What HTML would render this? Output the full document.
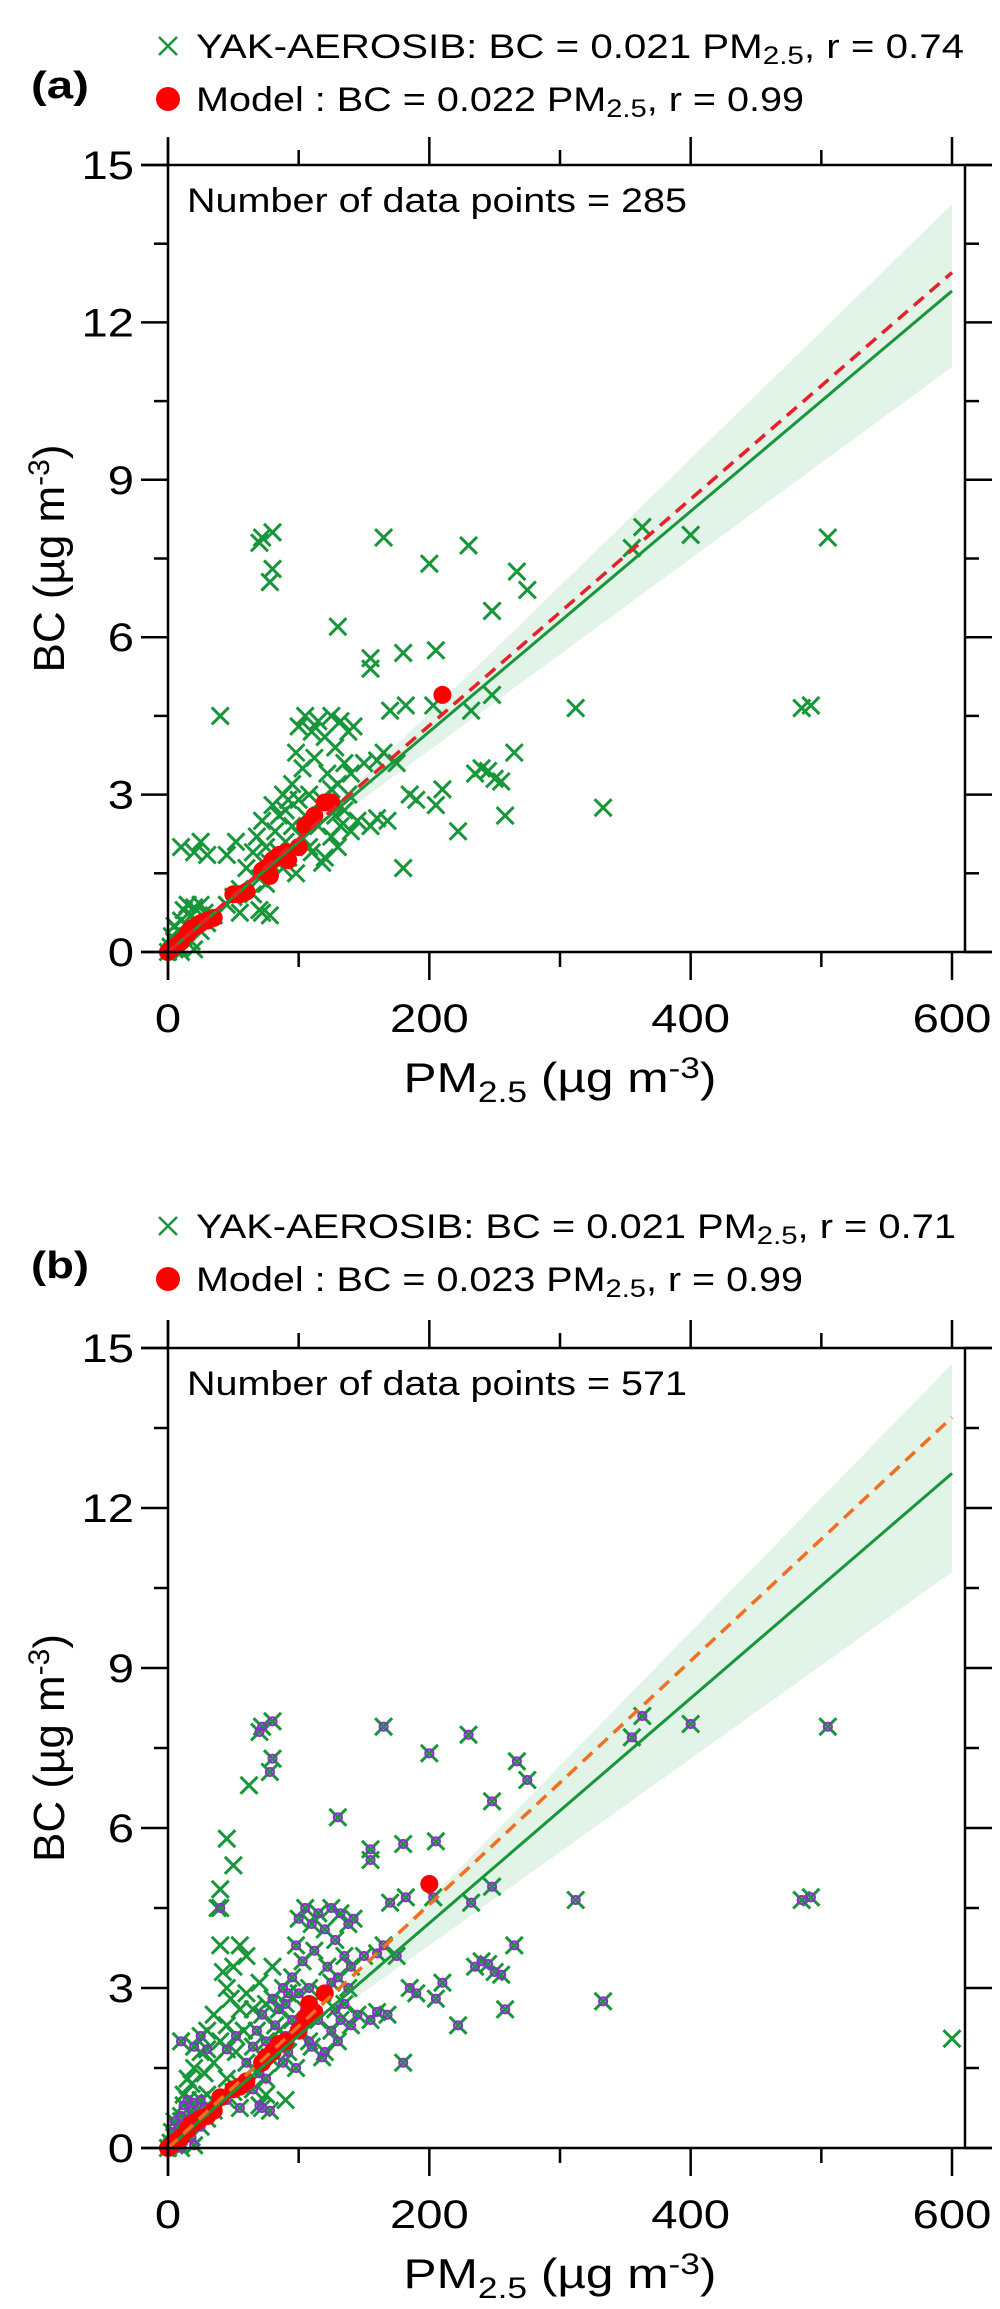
<!DOCTYPE html>
<html><head><meta charset="utf-8">
<style>
html,body{margin:0;padding:0;background:#fff;}
svg{display:block;font-family:"Liberation Sans",sans-serif;}
</style></head>
<body>
<svg id="fig" width="1000" height="2309" viewBox="0 0 1000 2309" xmlns="http://www.w3.org/2000/svg"></svg>
<script>
// ---------- data ----------
const xTicks = [0,200,400,600];
const yTicks = [0,3,6,9,12,15];

const obsAx = [70,72,80,78,80,165,200,230,267,275,248,130,155,155,180,205,40,170,182,203,232,248,312,485,492,505,400,363,355,265,235,240,245,250,255,258,222,205,210,185,190,180,168,155,160,333,175,165,150,160,10,20,25,30,45,52,55,70,72,78,
60,65,68,70,72,75,78,80,82,85,85,88,90,90,92,95,95,98,100,100,102,103,105,105,108,110,110,112,115,115,118,120,120,122,125,125,128,130,130,132,135,135,138,138,140,140,142,145,128,118,98,92,108,132,125,88,75,65,55,50,45,
0,2,3,5,5,8,8,10,12,12,15,15,18,18,20,22,25,28,30,35,20,25,10,5];
const obsAy = [7.8,7.9,8.0,7.05,7.3,7.9,7.4,7.75,7.25,6.9,6.5,6.2,5.6,5.4,5.7,5.75,4.5,4.6,4.7,4.7,4.6,4.9,4.65,4.65,4.7,7.9,7.95,8.1,7.7,3.8,3.4,3.5,3.45,3.3,3.25,2.6,2.3,2.8,3.1,3.0,2.9,1.6,2.5,2.4,2.55,2.75,3.6,3.8,3.6,3.65,2.0,1.9,2.1,1.85,1.85,2.1,0.75,0.8,0.75,0.7,
1.6,1.9,2.2,1.4,2.5,2.0,1.7,2.8,2.3,2.6,1.9,3.0,2.1,2.7,1.8,3.2,2.4,3.8,2.9,4.3,2.2,3.5,4.5,2.6,3.0,4.2,1.9,3.7,4.4,2.4,2.9,4.1,1.8,3.4,4.5,2.2,3.9,3.2,2.0,4.4,3.6,2.7,4.2,3.0,2.3,3.4,4.3,2.5,2.6,1.7,1.5,2.9,2.0,2.4,3.1,1.6,1.3,1.1,1.2,1.05,0.9,
0,0.1,0.3,0.2,0.5,0.4,0.1,0.6,0.3,0.8,0.5,0.9,0.7,0.2,0.85,0.6,0.9,0.75,0.55,0.7,0.05,0.4,0.0,0.05];

const modAx = [0,2,5,10,15,18,22,25,30,35,50,55,60,72,75,78,80,85,90,92,100,105,108,112,120,125,210];
const modAy = [0,0.05,0.1,0.2,0.35,0.45,0.5,0.55,0.6,0.65,1.1,1.1,1.15,1.55,1.6,1.45,1.75,1.85,1.9,1.75,2.0,2.4,2.45,2.6,2.85,2.85,4.9];

const extraBx = [40,45,50,62,38,40,42,45,48,50,55,60,35,30,25,20,15,12,18,28,35,40,45,52,58,65,70,75,60,55,80,85,65,45,30,22,10,600,90,75,8];
const extraBy = [4.85,5.8,5.3,6.8,4.5,3.8,3.3,3.0,2.8,3.4,2.6,2.9,2.5,2.2,1.8,1.5,1.3,1.0,1.2,1.4,1.6,2.0,2.3,1.8,2.2,2.6,3.1,2.7,3.6,3.8,3.4,2.2,1.5,1.3,1.0,0.7,0.5,2.05,0.9,1.0,0.2];
const modBx = [0,2,5,10,15,18,22,25,30,35,40,50,55,60,72,75,80,85,90,100,105,108,112,120,200];
const modBy = [0,0.05,0.1,0.2,0.35,0.45,0.5,0.55,0.6,0.7,0.95,1.1,1.15,1.25,1.6,1.7,1.8,1.95,2.0,2.2,2.45,2.7,2.55,2.9,4.95];

const fitXs = [0,600];
const fitA_obs = [0,12.6];  const fitA_mod = [0,12.95];
const fitB_obs = [0,12.65]; const fitB_mod = [0,13.7];
const bandXs = [140,600];
const bandA_up = [3.1,14.25]; const bandA_lo = [2.75,11.15];
const bandB_up = [3.15,14.7]; const bandB_lo = [2.75,10.8];

// ---------- drawing ----------
const NS="http://www.w3.org/2000/svg";
const svg=document.getElementById('fig');
function mk(tag,attrs,parent){const e=document.createElementNS(NS,tag);for(const k in attrs)e.setAttribute(k,attrs[k]);(parent||svg).appendChild(e);return e;}
const SX=1.18;
function txt(x,y,size,anchor,parent,extra){
  const a=Object.assign({x:0,y:0,'font-size':size,'text-anchor':anchor,transform:`translate(${x},${y}) scale(${SX},1)`},extra||{});
  return mk('text',a,parent);
}

function panel(cfg){
  const g=mk('g',{});
  
  
  const X0=168,X1=952,R=965,T=cfg.top,B=cfg.bottom;
  const sx=v=>X0+(X1-X0)*v/600;
  const sy=v=>B-(B-T)*v/15;
  const bp=[];
  bandXs.forEach((x,i)=>bp.push(sx(x)+','+sy(cfg.up[i])));
  for(let i=bandXs.length-1;i>=0;i--)bp.push(sx(bandXs[i])+','+sy(cfg.lo[i]));
  const band=mk('polygon',{points:bp.join(' '),fill:'#e2f3e7'},g);
  
  
  const og=mk('g',{stroke:'#18963a','stroke-width':3,fill:'none'},g);
  
  
  const drawX=(x,y)=>{const cx=sx(x),cy=sy(y),s=8.5;
    const p=mk('path',{d:`M${cx-s},${cy-s}L${cx+s},${cy+s}M${cx-s},${cy+s}L${cx+s},${cy-s}`},og);
    
    };
  if(cfg.ex){cfg.ex.forEach((x,i)=>drawX(x,cfg.ey[i]));}
  cfg.ox.forEach((x,i)=>drawX(x,cfg.oy[i]));
  if(cfg.purple){
    const pg=mk('g',{stroke:'#8a2fc8','stroke-width':2.2,fill:'none'},g);
    
    
    cfg.ox.forEach((x,i)=>{const c=mk('circle',{cx:sx(x),cy:sy(cfg.oy[i]),r:4},pg);
      
      });
  }
  const mg=mk('g',{fill:'#ff0000'},g);
  
  
  cfg.mx.forEach((x,i)=>{const c=mk('circle',{cx:sx(x),cy:sy(cfg.my[i]),r:9},mg);
    
    });
  const l1=mk('line',{x1:sx(fitXs[0]),y1:sy(cfg.fo[0]),x2:sx(fitXs[1]),y2:sy(cfg.fo[1]),stroke:'#18963a','stroke-width':3},g);
  
  
  const l2=mk('line',{x1:sx(fitXs[0]),y1:sy(cfg.fm[0]),x2:sx(fitXs[1]),y2:sy(cfg.fm[1]),stroke:cfg.dashColor,'stroke-width':3.5,'stroke-dasharray':'13,8'},g);
  
  
  const ax=mk('g',{stroke:'#000','stroke-width':2.5,fill:'none'},g);
  
  
  mk('line',{x1:X0-27,y1:T,x2:992,y2:T},ax);
  mk('line',{x1:X0-27,y1:B,x2:992,y2:B},ax);
  mk('line',{x1:X0,y1:T-27,x2:X0,y2:B+28},ax);
  mk('line',{x1:R,y1:T,x2:R,y2:B},ax);
  for(let v=0;v<=600;v+=100){const maj=v%200===0,L=maj?28:15;
    mk('line',{x1:sx(v),y1:B,x2:sx(v),y2:B+L},ax);
    mk('line',{x1:sx(v),y1:T,x2:sx(v),y2:T-L},ax);}
  for(let v=0;v<=15;v+=1.5){const maj=Math.abs(v/3-Math.round(v/3))<1e-6,L=maj?27:14;
    mk('line',{x1:X0,y1:sy(v),x2:X0-L,y2:sy(v)},ax);
    mk('line',{x1:R,y1:sy(v),x2:R+L,y2:sy(v)},ax);}
  xTicks.forEach(v=>{const t=txt(sx(v),B+80,40,'middle',g);t.textContent=v;
    });
  yTicks.forEach(v=>{const t=txt(X0-34,sy(v)+14,40,'end',g);t.textContent=v;
    });
  const xt=txt(560,B+140,42,'middle',g);
  xt.innerHTML='PM<tspan font-size="30" dy="10">2.5</tspan><tspan dy="-10"> (µg m</tspan><tspan font-size="30" dy="-14">-3</tspan><tspan dy="14">)</tspan>';
  
  const cy=(T+B)/2;
  const yt=mk('text',{x:0,y:0,'font-size':44,'text-anchor':'middle',transform:`translate(64,${cy}) rotate(-90)`},g);
  yt.innerHTML='BC (µg m<tspan font-size="30" dy="-15">-3</tspan><tspan dy="15">)</tspan>';
  
  const nt=mk('text',{x:187,y:T+47,'font-size':34,textLength:500,lengthAdjust:'spacingAndGlyphs'},g);nt.textContent=cfg.count;
  
  const pl=mk('text',{x:31,y:cfg.labY,'font-size':38,'font-weight':'bold',textLength:58,lengthAdjust:'spacingAndGlyphs'},g);pl.textContent=cfg.label;
  
  const lg=mk('g',{},g);
  
  const m=cfg.leg1Y, s=9;
  const lx=mk('path',{d:`M${168-s},${m-s}L${168+s},${m+s}M${168-s},${m+s}L${168+s},${m-s}`,stroke:'#18963a','stroke-width':2.5},lg);
  
  const t1=mk('text',{x:196,y:m+12,'font-size':34,textLength:cfg.w1,lengthAdjust:'spacingAndGlyphs'},lg);
  t1.innerHTML='YAK-AEROSIB: BC = 0.021 PM<tspan font-size="25" dy="6">2.5</tspan><tspan dy="-6">, r = '+cfg.r1+'</tspan>';
  
  const ld=mk('circle',{cx:168,cy:cfg.leg2Y,r:12,fill:'#ff0000'},lg);
  
  const t2=mk('text',{x:196,y:cfg.leg2Y+12,'font-size':34,textLength:cfg.w2,lengthAdjust:'spacingAndGlyphs'},lg);
  t2.innerHTML='Model : BC = '+cfg.slope+' PM<tspan font-size="25" dy="6">2.5</tspan><tspan dy="-6">, r = 0.99</tspan>';
  
}

panel({name:'panel-a',top:165,bottom:952,ox:obsAx,oy:obsAy,mx:modAx,my:modAy,fo:fitA_obs,fm:fitA_mod,
  up:bandA_up,lo:bandA_lo,dashColor:'#e8202a',count:'Number of data points = 285',label:'(a)',labY:98,
  leg1Y:46,leg2Y:99,r1:'0.74',slope:'0.022',w1:768,w2:608});
panel({name:'panel-b',top:1348,bottom:2148,ox:obsAx,oy:obsAy,ex:extraBx,ey:extraBy,purple:true,mx:modBx,my:modBy,
  fo:fitB_obs,fm:fitB_mod,up:bandB_up,lo:bandB_lo,dashColor:'#f07020',count:'Number of data points = 571',label:'(b)',labY:1278,
  leg1Y:1226,leg2Y:1279,r1:'0.71',slope:'0.023',w1:760,w2:607});
</script>
</body></html>
